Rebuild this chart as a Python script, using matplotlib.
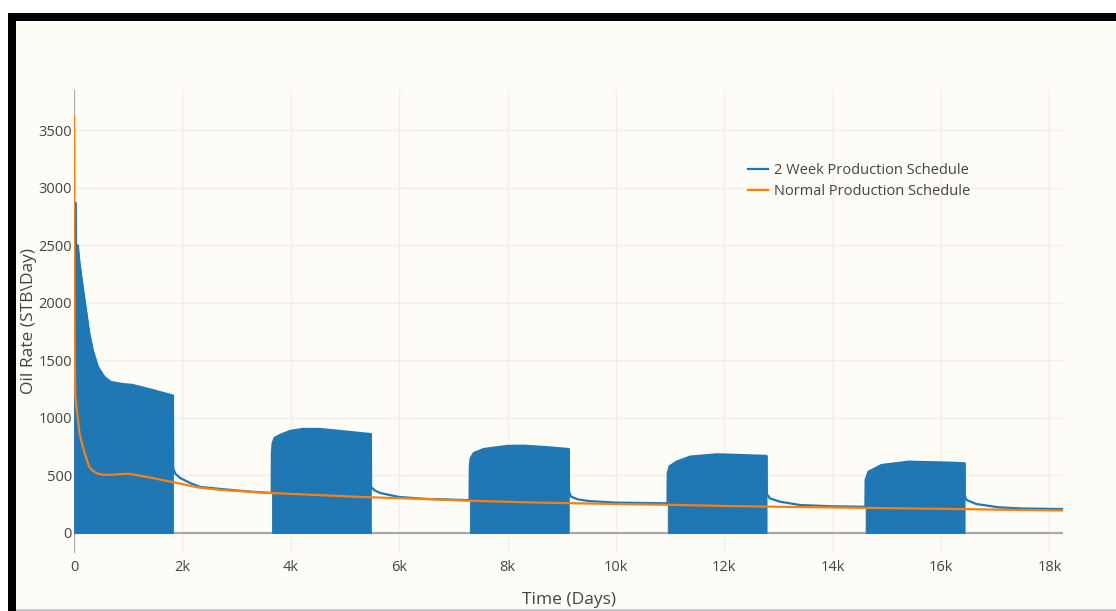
import matplotlib
matplotlib.use("Agg")
import matplotlib.pyplot as plt
from matplotlib.patches import Rectangle
from matplotlib.ticker import FixedLocator, FuncFormatter
import numpy as np

# Oil rate, 2-week on/off schedule: envelope of the cycling periods and the
# continuous-production tails between them (days, STB/day)
blue_days = [
    0, 30, 38, 70, 100, 160, 220, 280, 345, 440, 560, 680, 900, 1080, 1450, 1826,
    1830, 1870, 1960, 2140, 2330, 2700, 3000, 3300, 3648,
    3652, 3665, 3700, 3800, 3985, 4225, 4540, 4850, 5220, 5478,
    5482, 5540, 5650, 6000, 6500, 7000, 7300,
    7304, 7320, 7380, 7560, 7990, 8300, 8670, 9130,
    9134, 9170, 9300, 9500, 10000, 10500, 10952,
    10956, 10990, 11120, 11370, 11860, 12290, 12780,
    12784, 12841, 13030, 13400, 14000, 14604,
    14608, 14660, 14900, 15400, 16130, 16434,
    16438, 16470, 16650, 17070, 17500, 18250,
]
blue_rate = [
    2870, 2870, 2500, 2500, 2350, 2140, 1940, 1740, 1590, 1445, 1357, 1313, 1295, 1287, 1243, 1195,
    560, 515, 478, 435, 400, 383, 370, 358, 348,
    700, 780, 826, 852, 887, 905, 904, 890, 872, 860,
    400, 372, 348, 313, 296, 290, 285,
    577, 650, 696, 730, 757, 759, 748, 730,
    360, 316, 292, 278, 264, 261, 258,
    519, 580, 620, 664, 684, 678, 670,
    340, 301, 272, 243, 232, 228,
    461, 533, 591, 620, 612, 606,
    320, 287, 252, 223, 213, 208,
]
# Periods (days) during which the well is cycled on/off every two weeks
cycling_windows = [(0, 1826), (3652, 5478), (7304, 9130), (10956, 12780), (14608, 16434)]

# Oil rate, normal (continuous) production schedule
orange_days = [0, 4, 8, 14, 24, 45, 70, 100, 150, 200, 280, 350, 420, 550, 700, 850,
               1000, 1200, 1450, 1850, 2300, 2700, 3600, 4500, 5300, 6500, 7300,
               8500, 10000, 11000, 12000, 13000, 14300, 15500, 16500, 17500, 18250]
orange_rate = [3620, 2800, 2000, 1500, 1200, 1100, 1000, 870, 770, 690, 575, 540, 518, 505, 507, 512,
               515, 500, 478, 440, 395, 375, 348, 330, 313, 295, 280,
               265, 252, 245, 235, 228, 220, 213, 207, 200, 196]

x_ticks = [0, 2000, 4000, 6000, 8000, 10000, 12000, 14000, 16000, 18000]
y_ticks = [0, 500, 1000, 1500, 2000, 2500, 3000, 3500]

BLUE = "#1f77b4"
ORANGE = "#ff7f0e"
PAPER = "#fdfcf6"
GRID = "#f7ede7"
AXIS = "#a9a9a9"
TEXT = "#444444"
FONT = ["Open Sans", "DejaVu Sans"]

W, H = 1116, 611
fig = plt.figure(figsize=(W / 100, H / 100), dpi=100, facecolor="white")

# Frame around the page
def px_rect(x0, y0, x1, y1, color, z):
    fig.patches.append(Rectangle((x0 / W, 1 - y1 / H), (x1 - x0) / W, (y1 - y0) / H,
                                 transform=fig.transFigure, facecolor=color,
                                 edgecolor="none", zorder=z))

px_rect(8, 13, W, H, "black", -3)
px_rect(16, 21, W, H - 2, PAPER, -2)
px_rect(16, H - 2, W, H, "#c8c8c8", -2)

L, R, T, B = 74, 1063, 90, 553
ax = fig.add_axes([L / W, 1 - B / H, (R - L) / W, (B - T) / H])
ax.set_facecolor(PAPER)
ax.patch.set_alpha(0)

bd = np.array(blue_days, dtype=float)
bq = np.array(blue_rate, dtype=float)
for start, end in cycling_windows:
    m = (bd >= start) & (bd <= end)
    ax.fill_between(bd[m], 0, bq[m], color=BLUE, linewidth=0.6, edgecolor=BLUE, zorder=2)
ax.plot(bd, bq, color=BLUE, lw=1.6, zorder=3, solid_joinstyle="round",
        label="2 Week Production Schedule")
ax.plot(orange_days, orange_rate, color=ORANGE, lw=1.6, zorder=4,
        solid_joinstyle="round", label="Normal Production Schedule")

ax.set_xlim(0, 18250)
ax.set_ylim(-174, 3852)

ax.xaxis.set_major_locator(FixedLocator(x_ticks))
ax.yaxis.set_major_locator(FixedLocator(y_ticks))
ax.xaxis.set_major_formatter(FuncFormatter(lambda v, p: "0" if v == 0 else f"{int(v / 1000)}k"))
ax.yaxis.set_major_formatter(FuncFormatter(lambda v, p: f"{int(v)}"))
ax.grid(True, color=GRID, lw=1.0, zorder=0)
ax.set_axisbelow(True)
for s in ax.spines.values():
    s.set_visible(False)
ax.tick_params(axis="both", length=0, colors=TEXT, labelsize=10.5)
ax.tick_params(axis="x", pad=5)
ax.tick_params(axis="y", pad=1.5)
for lab in ax.get_xticklabels() + ax.get_yticklabels():
    lab.set_family(FONT)

ax.axhline(0, color=AXIS, lw=1.6, zorder=1)
ax.axvline(0, color=AXIS, lw=1.6, zorder=1)

ax.set_xlabel("Time (Days)", family=FONT, fontsize=12.5, color=TEXT)
ax.xaxis.set_label_coords(0.5, -(600 - B) / (B - T), transform=ax.transAxes)
ax.xaxis.label.set_va("center")
ax.set_ylabel("Oil Rate (STB\\Day)", family=FONT, fontsize=12.5, color=TEXT)
ax.yaxis.set_label_coords(-(L - 29) / (R - L), 0.5)
ax.yaxis.label.set_va("center")

leg = ax.legend(loc="upper left", bbox_to_anchor=((748 - L) / (R - L), (B - 163) / (B - T)),
                frameon=False, prop={"family": FONT, "size": 10.5}, handlelength=1.4,
                handletextpad=0.35, labelspacing=0.42, borderaxespad=0, borderpad=0)
for t in leg.get_texts():
    t.set_color(TEXT)

fig.savefig("out.png", dpi=100, facecolor=fig.get_facecolor())
